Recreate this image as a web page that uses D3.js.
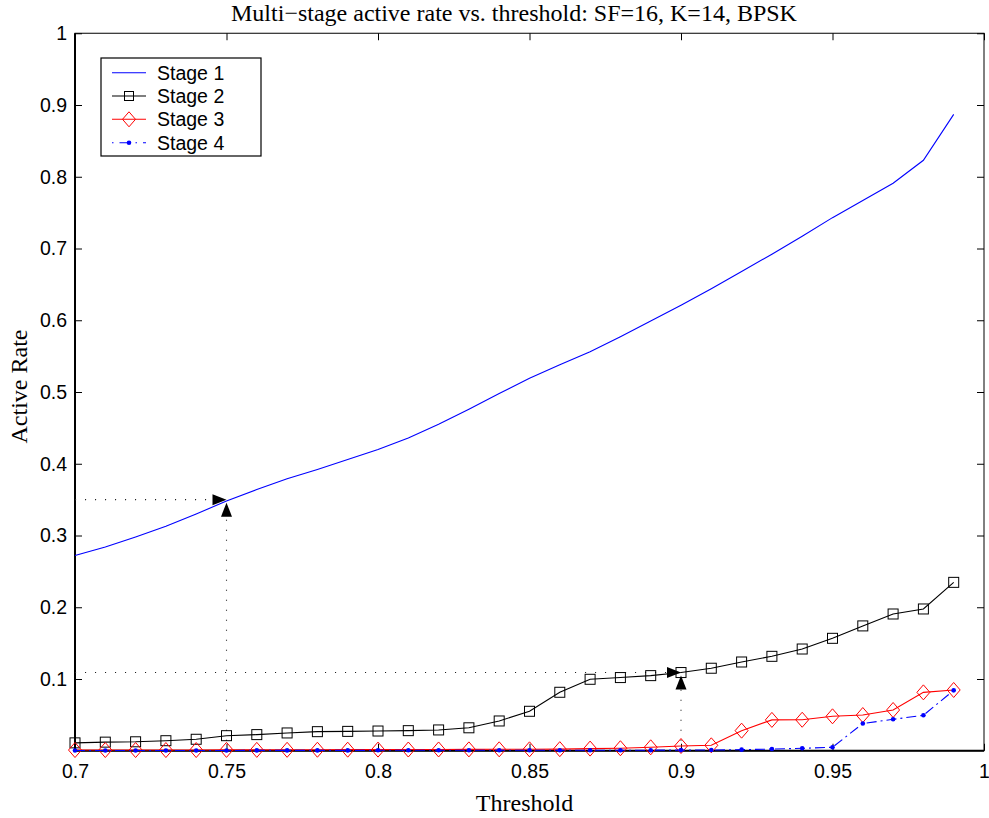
<!DOCTYPE html>
<html>
<head>
<meta charset="utf-8">
<script src="https://cdn.jsdelivr.net/npm/d3@7"></script>
<style>
  body { margin: 0; background: #fff; }
  svg { display: block; }
</style>
</head>
<body>
<svg class="svg_rate" width="989" height="818"></svg>
<script>
// threshold values (x axis)
var thresholds = [0.70, 0.71, 0.72, 0.73, 0.74, 0.75, 0.76, 0.77, 0.78, 0.79,
                  0.80, 0.81, 0.82, 0.83, 0.84, 0.85, 0.86, 0.87, 0.88, 0.89,
                  0.90, 0.91, 0.92, 0.93, 0.94, 0.95, 0.96, 0.97, 0.98, 0.99];

var stage1 = [0.272, 0.284, 0.298, 0.313, 0.330, 0.348, 0.364, 0.379, 0.392, 0.406,
              0.420, 0.436, 0.455, 0.476, 0.498, 0.519, 0.538, 0.556, 0.577, 0.599,
              0.621, 0.644, 0.668, 0.692, 0.717, 0.743, 0.767, 0.791, 0.823, 0.887];

var stage2 = [0.011, 0.012, 0.0125, 0.014, 0.016, 0.021, 0.0225, 0.0248, 0.0266, 0.027,
              0.0275, 0.028, 0.029, 0.032, 0.0415, 0.055, 0.0815, 0.0996, 0.102, 0.1047,
              0.109, 0.115, 0.1237, 0.1316, 0.1418, 0.1567, 0.174, 0.1906, 0.1976, 0.2347];

var stage3 = [0.001, 0.001, 0.001, 0.001, 0.001, 0.0012, 0.0012, 0.0013, 0.0014, 0.0015,
              0.0016, 0.0017, 0.0018, 0.0019, 0.002, 0.002, 0.0022, 0.003, 0.0035, 0.0048,
              0.0066, 0.0076, 0.028, 0.043, 0.0432, 0.048, 0.0498, 0.0568, 0.0814, 0.0847];

var stage4 = [0.0003, 0.0003, 0.0003, 0.0004, 0.0004, 0.0004, 0.0005, 0.0005, 0.0005, 0.0005,
              0.0006, 0.0006, 0.0006, 0.0006, 0.0006, 0.0006, 0.0007, 0.0007, 0.0008, 0.0008,
              0.0009, 0.001, 0.0015, 0.0024, 0.0034, 0.0048, 0.038, 0.0438, 0.0494, 0.0842];

var stageNames = ["Stage 1", "Stage 2", "Stage 3", "Stage 4"];

// tick labels
var xTicks = [0.7, 0.75, 0.8, 0.85, 0.9, 0.95, 1];
var yTicks = [0.1, 0.2, 0.3, 0.4, 0.5, 0.6, 0.7, 0.8, 0.9, 1];

// annotated operating points (threshold, active rate)
var markX = [0.75, 0.9];
var markY = [0.35, 0.109];

var titleText = "Multi\u2212stage active rate vs. threshold: SF=16, K=14, BPSK";

// plot box
var boxL = 75, boxR = 984, boxT = 33.25, boxB = 750.75;

var svg = d3.select('.svg_rate');

var x = d3.scaleLinear().domain([0.7, 1]).range([boxL, boxR]);
var y = d3.scaleLinear().domain([0, 1]).range([boxB, boxT]);

var sans = "'Liberation Sans', Arial, sans-serif";
var serif = "'Liberation Serif', 'Times New Roman', serif";

// axes with inward ticks on all four sides
var tickLen = 7;
svg.append('g').attr('transform', 'translate(0,' + boxB + ')')
  .call(d3.axisBottom(x).tickValues(xTicks).tickSizeInner(-tickLen).tickSizeOuter(0).tickPadding(13)
        .tickFormat(function(d) { return d3.format('')(+d.toFixed(2)); }))
  .call(function(g) { g.select('.domain').remove(); });
svg.append('g').attr('transform', 'translate(0,' + boxT + ')')
  .call(d3.axisTop(x).tickValues(xTicks).tickSizeInner(-tickLen).tickSizeOuter(0).tickFormat(''))
  .call(function(g) { g.select('.domain').remove(); });
svg.append('g').attr('transform', 'translate(' + boxL + ',0)')
  .call(d3.axisLeft(y).tickValues(yTicks).tickSizeInner(-tickLen).tickSizeOuter(0).tickPadding(8)
        .tickFormat(function(d) { return d3.format('')(+d.toFixed(1)); }))
  .call(function(g) { g.select('.domain').remove(); });
svg.append('g').attr('transform', 'translate(' + boxR + ',0)')
  .call(d3.axisRight(y).tickValues(yTicks).tickSizeInner(-tickLen).tickSizeOuter(0).tickFormat(''))
  .call(function(g) { g.select('.domain').remove(); });

svg.selectAll('.tick line').attr('stroke', '#000');
svg.selectAll('.tick text').style('font-family', sans).style('font-size', '19.5px').attr('fill', '#000');

// plot box
svg.append('rect')
  .attr('x', boxL).attr('y', boxT)
  .attr('width', boxR - boxL).attr('height', boxB - boxT)
  .attr('fill', 'none').attr('stroke', '#000').attr('stroke-width', 1);
svg.append('path')
  .attr('d', 'M' + boxL + ',' + boxT + 'V' + boxB + 'H' + boxR)
  .attr('fill', 'none').attr('stroke', '#000').attr('stroke-width', 2);

// dotted guide lines + arrows
var guides = svg.append('g');
markX.forEach(function(mx, i) {
  var px = x(mx), py = y(markY[i]);
  guides.append('line')
    .attr('x1', boxL).attr('y1', py).attr('x2', px - 14).attr('y2', py)
    .attr('stroke', '#222').attr('stroke-width', 1.1).attr('stroke-dasharray', '1.1,8.9');
  guides.append('line')
    .attr('x1', px).attr('y1', boxB).attr('x2', px).attr('y2', py + 17)
    .attr('stroke', '#222').attr('stroke-width', 1.1).attr('stroke-dasharray', '1.1,8.9');
  // right-pointing arrow
  guides.append('path')
    .attr('d', 'M' + px + ',' + py + 'L' + (px - 14) + ',' + (py - 5.5) + 'L' + (px - 14) + ',' + (py + 5.5) + 'Z')
    .attr('fill', '#000');
  // up-pointing arrow
  guides.append('path')
    .attr('d', 'M' + px + ',' + (py + 3) + 'L' + (px - 5.5) + ',' + (py + 17) + 'L' + (px + 5.5) + ',' + (py + 17) + 'Z')
    .attr('fill', '#000');
});

var line = d3.line()
  .x(function(d, i) { return x(thresholds[i]); })
  .y(function(d) { return y(d); });

// Stage 1
svg.append('path').datum(stage1).attr('d', line)
  .attr('fill', 'none').attr('stroke', '#0000ff').attr('stroke-width', 1.1);

// Stage 2
svg.append('path').datum(stage2).attr('d', line)
  .attr('fill', 'none').attr('stroke', '#000').attr('stroke-width', 1.1);
svg.selectAll('.sq').data(stage2).enter().append('rect')
  .attr('class', 'sq')
  .attr('x', function(d, i) { return x(thresholds[i]) - 5; })
  .attr('y', function(d) { return y(d) - 5; })
  .attr('width', 10).attr('height', 10)
  .attr('fill', 'none').attr('stroke', '#000').attr('stroke-width', 1);

// Stage 3
function diamond(cx, cy) {
  return 'M' + cx + ',' + (cy - 7.5) + 'L' + (cx + 6.5) + ',' + cy + 'L' + cx + ',' + (cy + 7.5) + 'L' + (cx - 6.5) + ',' + cy + 'Z';
}
svg.append('path').datum(stage3).attr('d', line)
  .attr('fill', 'none').attr('stroke', '#ff0000').attr('stroke-width', 1.1);
svg.selectAll('.dm').data(stage3).enter().append('path')
  .attr('class', 'dm')
  .attr('d', function(d, i) { return diamond(x(thresholds[i]), y(d)); })
  .attr('fill', 'none').attr('stroke', '#ff0000').attr('stroke-width', 1);

// Stage 4
svg.append('path').datum(stage4).attr('d', line)
  .attr('fill', 'none').attr('stroke', '#0000ff').attr('stroke-width', 1.1)
  .attr('stroke-dasharray', '10,4,2,4');
svg.selectAll('.dt').data(stage4).enter().append('circle')
  .attr('class', 'dt')
  .attr('cx', function(d, i) { return x(thresholds[i]); })
  .attr('cy', function(d) { return y(d); })
  .attr('r', 2.3).attr('fill', '#0000ff');

// legend
var legend = svg.append('g');
legend.append('rect')
  .attr('x', 101).attr('y', 58).attr('width', 160).attr('height', 98)
  .attr('fill', '#fff').attr('stroke', '#000').attr('stroke-width', 1.2);
var legendRows = [72.7, 96, 119.3, 142.7];
var lx0 = 112, lx1 = 146, lmid = 129;
stageNames.forEach(function(name, i) {
  var ly = legendRows[i];
  var colour = (i === 1) ? '#000' : (i === 2 ? '#ff0000' : '#0000ff');
  var seg = legend.append('line')
    .attr('x1', lx0).attr('y1', ly).attr('x2', lx1).attr('y2', ly)
    .attr('stroke', colour).attr('stroke-width', 1.1);
  if (i === 3) seg.attr('stroke-dasharray', '1.5,6,10,6');
  if (i === 1) legend.append('rect').attr('x', lmid - 4.5).attr('y', ly - 4.5).attr('width', 9).attr('height', 9)
    .attr('fill', 'none').attr('stroke', '#000');
  if (i === 2) legend.append('path').attr('d', diamond(lmid, ly)).attr('fill', 'none').attr('stroke', '#ff0000');
  if (i === 3) legend.append('circle').attr('cx', lmid).attr('cy', ly).attr('r', 2.3).attr('fill', '#0000ff');
  legend.append('text')
    .attr('x', 157).attr('y', ly + 7)
    .style('font-family', sans).style('font-size', '19.5px')
    .text(name);
});

// title and axis labels
svg.append('text')
  .attr('x', 514).attr('y', 21)
  .attr('text-anchor', 'middle')
  .style('font-family', serif).style('font-size', '24px')
  .text(titleText);
svg.append('text')
  .attr('x', 524.5).attr('y', 811)
  .attr('text-anchor', 'middle')
  .style('font-family', serif).style('font-size', '24px')
  .text('Threshold');
svg.append('text')
  .attr('transform', 'translate(27,386.5) rotate(-90)')
  .attr('text-anchor', 'middle')
  .style('font-family', serif).style('font-size', '24px')
  .text('Active Rate');
</script>
</body>
</html>
